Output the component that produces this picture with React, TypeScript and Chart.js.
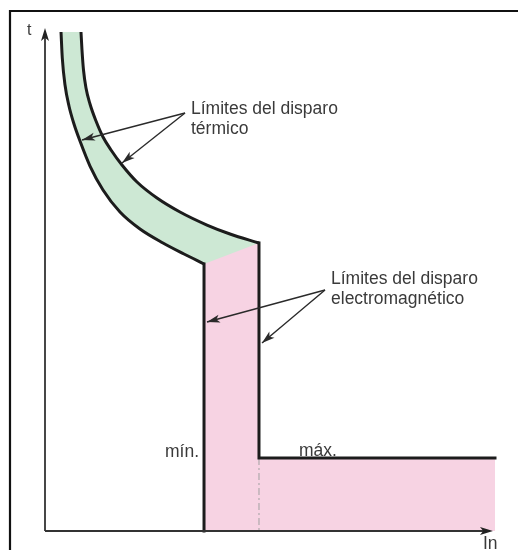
import React, { useEffect, useRef } from "react";
import { Chart, registerables } from "chart.js";

Chart.register(...registerables);

// Axes: x = current (In), y = trip time (t), both in relative units 0..100
const thermalMinI = [3.52, 3.8, 4.4, 5.27, 6.37, 7.69, 9.89, 12.75, 16.48, 20.88, 25.93, 30.55, 34.95];
const thermalMinT = [99.2, 94.04, 88.67, 84.49, 80.91, 77.53, 72.56, 67.79, 63.42, 60.04, 57.26, 55.07, 53.08];
const thermalMaxI = [7.91, 8.13, 8.46, 9.01, 9.89, 11.21, 12.75, 14.51, 16.92, 20.22, 24.62, 29.67, 35.6, 40.66, 47.03];
const thermalMaxT = [99.2, 95.63, 91.65, 88.07, 84.89, 81.51, 78.33, 75.75, 72.76, 69.38, 66.2, 63.42, 60.83, 59.05, 57.26];

const magneticMinI = [34.95, 34.95];
const magneticMinT = [53.08, 0];
const magneticMaxI = [47.03, 47.03, 98.9];
const magneticMaxT = [57.26, 14.51, 14.51];
const magneticGuideI = [47.03, 47.03];
const magneticGuideT = [14.51, 0];
const magneticZoneI = [34.95, 47.03, 47.03, 98.9, 98.9, 34.95];
const magneticZoneT = [53.08, 57.26, 14.51, 14.51, 0, 0];

const thermalLabel = ["Límites del disparo", "térmico"];
const magneticLabel = ["Límites del disparo", "electromagnético"];
const minLabel = "mín.";
const maxLabel = "máx.";
const xAxisLabel = "In";
const yAxisLabel = "t";

const GREEN = "#cde8d4";
const PINK = "#f7d3e3";
const LINE = "#1c1c1c";
const TEXT = "#3a3a3a";
const FONT = '17.5px "Liberation Sans", Arial, sans-serif';

const pts = (xs: number[], ys: number[]) => xs.map((x, i) => ({ x, y: ys[i] }));

// green band between the two thermal curves, built from the line elements' own paths
const thermalBandPlugin = {
  id: "thermalBand",
  beforeDatasetsDraw(chart: any) {
    const ctx = chart.ctx as CanvasRenderingContext2D;
    const a = chart.getDatasetMeta(0).dataset;
    const b = chart.getDatasetMeta(1).dataset;
    ctx.save();
    ctx.fillStyle = GREEN;
    ctx.beginPath();
    try {
      a.updateControlPoints(chart.chartArea, "x");
      b.updateControlPoints(chart.chartArea, "x");
      a.path(ctx);
      const ap = a.points[a.points.length - 1];
      const bp = b.points[b.points.length - 1];
      ctx.lineTo(ap.x, ap.y + 4);
      ctx.lineTo(bp.x, bp.y + 4);
      b.pathSegment(ctx, b.segments[0], { move: false, reverse: true });
      ctx.closePath();
    } catch (e) {
      const xs = chart.scales.x, ys = chart.scales.y;
      const poly = [...pts(thermalMinI, thermalMinT), ...pts(thermalMaxI, thermalMaxT).reverse()];
      ctx.beginPath();
      poly.forEach((p, i) => {
        const X = xs.getPixelForValue(p.x), Y = ys.getPixelForValue(p.y);
        if (i === 0) ctx.moveTo(X, Y); else ctx.lineTo(X, Y);
      });
      ctx.closePath();
    }
    ctx.fill();
    ctx.restore();
  },
};

const decorPlugin = {
  id: "decor",
  afterDatasetsDraw(chart: any) {
    const ctx = chart.ctx as CanvasRenderingContext2D;
    const xs = chart.scales.x;
    const ys = chart.scales.y;
    const px = (v: number) => xs.getPixelForValue(v);
    const py = (v: number) => ys.getPixelForValue(v);

    const arrowHead = (x0: number, y0: number, x1: number, y1: number, len: number, half: number, color: string) => {
      const dx = x1 - x0, dy = y1 - y0;
      const d = Math.hypot(dx, dy) || 1;
      const ux = dx / d, uy = dy / d;
      const nx = -uy, ny = ux;
      ctx.beginPath();
      ctx.moveTo(x1, y1);
      ctx.lineTo(x1 - ux * len + nx * half, y1 - uy * len + ny * half);
      ctx.lineTo(x1 - ux * len * 0.75, y1 - uy * len * 0.75);
      ctx.lineTo(x1 - ux * len - nx * half, y1 - uy * len - ny * half);
      ctx.closePath();
      ctx.fillStyle = color;
      ctx.fill();
    };
    const arrow = (a: number[], b: number[]) => {
      const x0 = px(a[0]), y0 = py(a[1]), x1 = px(b[0]), y1 = py(b[1]);
      ctx.save();
      ctx.strokeStyle = "#2a2a2a";
      ctx.lineWidth = 1.4;
      ctx.beginPath();
      ctx.moveTo(x0, y0);
      ctx.lineTo(x1, y1);
      ctx.stroke();
      arrowHead(x0, y0, x1, y1, 13, 4, "#2a2a2a");
      ctx.restore();
    };

    ctx.save();
    // frame
    ctx.strokeStyle = "#111";
    ctx.lineWidth = 2.2;
    ctx.beginPath();
    ctx.moveTo(10, chart.height);
    ctx.lineTo(10, 11);
    ctx.lineTo(chart.width, 11);
    ctx.stroke();

    // axes
    const ox = px(0), oy = py(0);
    ctx.strokeStyle = "#333";
    ctx.lineWidth = 1.8;
    ctx.beginPath();
    ctx.moveTo(ox, oy);
    ctx.lineTo(ox, py(100) + 6);
    ctx.moveTo(ox, oy);
    ctx.lineTo(px(98.46) - 6, oy);
    ctx.stroke();
    arrowHead(ox, oy, ox, py(100), 13, 4, "#222");
    arrowHead(ox, oy, px(98.46), oy, 13, 4, "#222");

    // annotation arrows
    arrow([30.77, 83.1], [8.13, 77.73]);
    arrow([30.77, 83.1], [16.92, 73.16]);
    arrow([61.54, 47.91], [35.6, 41.55]);
    arrow([61.54, 47.91], [47.69, 37.38]);

    // texts
    ctx.fillStyle = TEXT;
    ctx.font = FONT;
    ctx.textAlign = "left";
    ctx.textBaseline = "alphabetic";
    ctx.fillText(thermalLabel[0], px(32.09), py(82.9));
    ctx.fillText(thermalLabel[1], px(32.09), py(78.93));
    ctx.fillText(magneticLabel[0], px(62.86), py(49.11));
    ctx.fillText(magneticLabel[1], px(62.86), py(45.13));
    ctx.fillText(minLabel, px(26.37), py(14.71));
    ctx.fillText(maxLabel, px(55.82), py(14.91));
    ctx.fillText(xAxisLabel, px(96.26), py(-3.58));
    ctx.font = '16px "Liberation Sans", Arial, sans-serif';
    ctx.fillText(yAxisLabel, px(-3.96), py(98.61));
    ctx.restore();
  },
};

export default function App() {
  const ref = useRef<HTMLCanvasElement | null>(null);

  useEffect(() => {
    if (!ref.current) return;
    const curve = (label: string, xs: number[], ys: number[]) => ({
      label,
      data: pts(xs, ys),
      borderColor: LINE,
      borderWidth: 3,
      cubicInterpolationMode: "monotone",
      pointRadius: 0,
      fill: false,
      order: 0,
      clip: false,
    });
    const chart = new Chart(ref.current, {
      type: "line",
      data: {
        datasets: [
          curve("thermal min", thermalMinI, thermalMinT),
          curve("thermal max", thermalMaxI, thermalMaxT),
          {
            label: "magnetic min",
            data: pts(magneticMinI, magneticMinT),
            borderColor: LINE,
            borderWidth: 3,
            tension: 0,
            pointRadius: 0,
            fill: false,
            borderCapStyle: "square",
            order: 0,
            clip: false,
          },
          {
            label: "magnetic max",
            data: pts(magneticMaxI, magneticMaxT),
            borderColor: LINE,
            borderWidth: 3,
            tension: 0,
            pointRadius: 0,
            fill: false,
            borderCapStyle: "square",
            borderJoinStyle: "miter",
            order: 0,
            clip: false,
          },
          {
            label: "guide",
            data: pts(magneticGuideI, magneticGuideT),
            borderColor: "#a0a0a0",
            borderWidth: 1,
            borderDash: [7, 3, 2, 3],
            tension: 0,
            pointRadius: 0,
            fill: false,
            order: 1,
            clip: false,
          },
          {
            label: "magnetic zone",
            data: pts(magneticZoneI, magneticZoneT),
            borderColor: "rgba(0,0,0,0)",
            borderWidth: 0,
            backgroundColor: PINK,
            tension: 0,
            pointRadius: 0,
            fill: "shape",
            order: 2,
            clip: false,
          },
        ],
      },
      options: {
        responsive: false,
        animation: false,
        layout: { padding: { left: 45, right: 18, top: 28, bottom: 19 } },
        scales: {
          x: { type: "linear", min: 0, max: 100, display: false },
          y: { type: "linear", min: 0, max: 100, display: false },
        },
        plugins: {
          legend: { display: false },
          tooltip: { enabled: false },
        },
      },
      plugins: [thermalBandPlugin, decorPlugin],
    } as any);
    return () => chart.destroy();
  }, []);

  return (
    <div style={{ position: "fixed", left: 0, top: 0, width: 518, height: 550, background: "#fff" }}>
      <canvas ref={ref} width={518} height={550} style={{ display: "block" }} />
    </div>
  );
}
